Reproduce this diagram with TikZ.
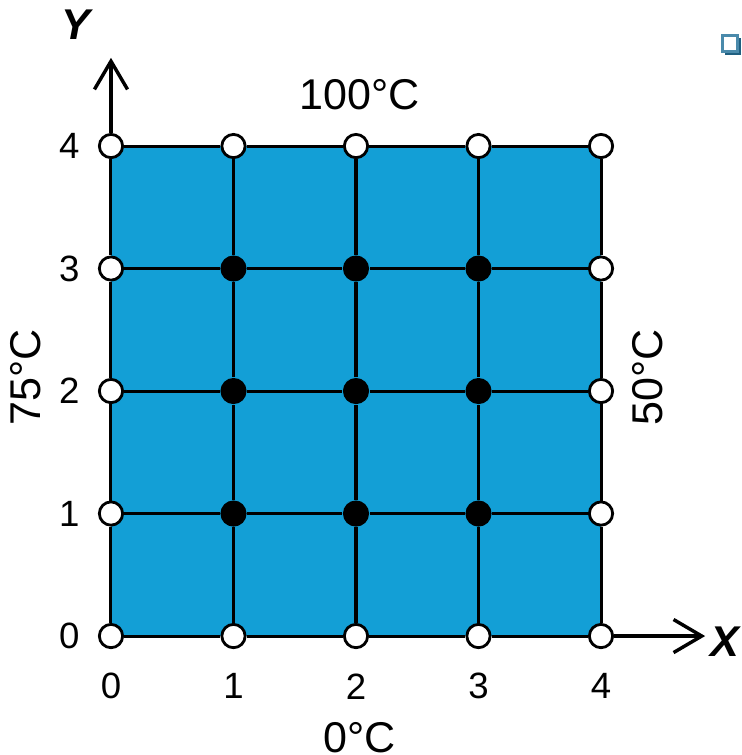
\documentclass[tikz,border=0pt]{standalone}
\usepackage{fontspec}
\setmainfont{Liberation Sans}
\usetikzlibrary{arrows.meta}
\definecolor{plate}{RGB}{19,159,214}
\definecolor{boxedge}{RGB}{74,138,171}
\definecolor{boxshade}{RGB}{31,95,128}

\begin{document}
\begin{tikzpicture}[x=1cm,y=1cm,line width=.7pt,
  bnd/.style={circle,draw,fill=white,minimum size=.19cm,inner sep=0pt,line width=.65pt},
  inn/.style={circle,fill=black,minimum size=.2cm,inner sep=0pt},
  tick/.style={font=\fontsize{8.5}{10}\selectfont},
  temp/.style={font=\fontsize{10}{12}\selectfont},
  axl/.style={font=\fontsize{10}{12}\selectfont\bfseries\itshape},
  ax/.style={-{Straight Barb[length=2.3mm,width=2.7mm]},line width=.8pt}]
  \useasboundingbox (-.906,-.971) rectangle (5.151,5.192);
  \fill[plate] (0,0) rectangle (4,4);

  % grid points
  \foreach \i in {0,...,4}
    \foreach \j in {0,...,4}
      \node[bnd] (n\i\j) at (\i,\j) {};
  \foreach \i in {1,2,3}
    \foreach \j in {1,2,3}
      \node[inn] (n\i\j) at (\i,\j) {};

  % grid lines
  \foreach \i in {0,...,4}
    \foreach \j [count=\k] in {0,...,3} {
      \draw (n\i\j)--(n\i\k);
      \draw (n\j\i)--(n\k\i);
    }

  % axes
  \coordinate (ytip) at (0,4.72);
  \coordinate (xtip) at (4.85,0);
  \draw[ax] (n04)--(ytip);
  \draw[ax] (n40)--(xtip);
  \node[axl] (ylab) at (-.29,4.99) {Y};
  \node[axl] (xlab) at (5.01,-.05) {X};

  \foreach \i in {0,...,4} {
    \node[tick] (xt\i) at (\i,-.41) {\i};
    \node[tick] (yt\i) at (-.34,\i) {\i};
  }

  % boundary temperatures
  \node[temp] (top) at (2.03,4.42) {100°C};
  \node[temp] (bot) at (2.03,-.83) {0°C};
  \node[temp,rotate=90] (lft) at (-.70,2.11) {75°C};
  \node[temp,rotate=90] (rgt) at (4.38,2.11) {50°C};

  % bullet box
  \fill[boxshade] (5.013,4.743) rectangle (5.143,4.881);
  \filldraw[draw=boxedge,fill=white,line width=.5pt] (4.992,4.771) rectangle (5.114,4.902);
\end{tikzpicture}
\end{document}
